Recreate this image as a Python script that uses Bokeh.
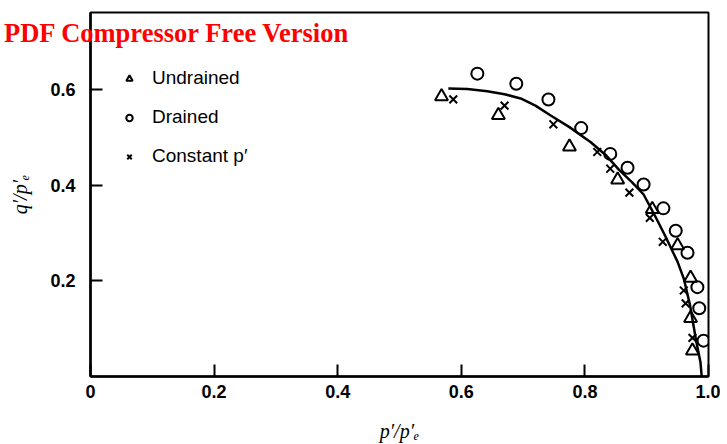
from bokeh.plotting import figure
from bokeh.models import Legend, LegendItem, FixedTicker, Div
from bokeh.layouts import column
from bokeh.embed import file_html
from bokeh.resources import INLINE

# Data (p'/p'e, q'/p'e)
undrained_x = [0.568, 0.660, 0.775, 0.853, 0.909, 0.950, 0.971, 0.971, 0.974]
undrained_y = [0.586, 0.547, 0.481, 0.412, 0.350, 0.274, 0.206, 0.122, 0.054]

drained_x = [0.626, 0.689, 0.741, 0.794, 0.841, 0.869, 0.895, 0.927, 0.947, 0.966, 0.982, 0.985, 0.992]
drained_y = [0.634, 0.613, 0.580, 0.520, 0.466, 0.437, 0.402, 0.352, 0.305, 0.259, 0.187, 0.143, 0.075]

constp_x = [0.587, 0.670, 0.749, 0.820, 0.841, 0.872, 0.905, 0.926, 0.960, 0.963, 0.974]
constp_y = [0.580, 0.567, 0.528, 0.470, 0.435, 0.385, 0.332, 0.282, 0.180, 0.153, 0.081]

curve_x = [0.579, 0.610, 0.642, 0.670, 0.696, 0.720, 0.744, 0.775, 0.809, 0.835, 0.855, 0.876, 0.895, 0.914, 0.930, 0.950, 0.960, 0.970, 0.980, 0.987, 0.989]
curve_y = [0.603, 0.602, 0.597, 0.591, 0.582, 0.567, 0.547, 0.522, 0.491, 0.462, 0.433, 0.407, 0.381, 0.335, 0.294, 0.240, 0.205, 0.150, 0.075, 0.030, 0.0]

x_ticks = [0, 0.2, 0.4, 0.6, 0.8, 1.0]
x_tick_labels = {0: "0", 0.2: "0.2", 0.4: "0.4", 0.6: "0.6", 0.8: "0.8", 1.0: "1.0"}
y_ticks = [0.2, 0.4, 0.6]
y_tick_labels = {0.2: "0.2", 0.4: "0.4", 0.6: "0.6"}

watermark = "PDF Compressor Free Version"

p = figure(width=720, height=444, output_backend="svg", toolbar_location=None,
           x_range=(0, 1.0), y_range=(0, 0.762),
           min_border_left=90, min_border_right=12, min_border_top=12, min_border_bottom=65)

p.grid.visible = False
p.outline_line_color = "black"
p.outline_line_width = 2
p.background_fill_color = "white"
p.border_fill_color = "white"

for ax in (p.xaxis[0], p.yaxis[0]):
    ax.axis_line_width = 2.5
    ax.major_tick_in = 12
    ax.major_tick_out = 0
    ax.major_tick_line_width = 2
    ax.minor_tick_line_color = None
    ax.major_label_text_font = "Liberation Sans"
    ax.major_label_text_font_style = "bold"
    ax.major_label_text_font_size = "18px"
    ax.major_label_text_color = "black"
    ax.axis_label_text_color = "black"
    ax.axis_label_text_font = "Liberation Serif"
    ax.axis_label_text_font_style = "italic"
    ax.axis_label_text_font_size = "20px"

p.xaxis.ticker = FixedTicker(ticks=x_ticks)
p.xaxis.major_label_overrides = x_tick_labels
p.xaxis.major_label_standoff = 8
p.xaxis.axis_label = "p\u2032/p\u2032\u2091"
p.xaxis.axis_label_standoff = 19

p.yaxis.ticker = FixedTicker(ticks=y_ticks)
p.yaxis.major_label_overrides = y_tick_labels
p.yaxis.major_label_standoff = 15
p.yaxis.axis_label = "q\u2032/p\u2032\u2091"
p.yaxis.axis_label_standoff = 16

p.line(curve_x, curve_y, line_color="black", line_width=2.5)

r_u = p.scatter(undrained_x, undrained_y, marker="triangle", size=13,
                fill_color=None, line_color="black", line_width=2)
r_d = p.scatter(drained_x, drained_y, marker="circle", size=12,
                fill_color=None, line_color="black", line_width=2)
r_c = p.scatter(constp_x, constp_y, marker="x", size=11,
                line_color="black", line_width=2)

legend = Legend(items=[LegendItem(label="Undrained", renderers=[r_u]),
                       LegendItem(label="Drained", renderers=[r_d]),
                       LegendItem(label="Constant p\u2032", renderers=[r_c])],
                location=(31, 209), border_line_alpha=0, background_fill_alpha=0,
                label_text_font="Liberation Sans", label_text_font_size="19px",
                label_text_color="black",
                glyph_width=16, glyph_height=19, label_height=19, spacing=17,
                label_standoff=15, padding=0, margin=0)
p.add_layout(legend)

wm = Div(text=watermark, width=380, height=34,
         styles={"position": "absolute", "left": "-1px", "top": "13px", "z-index": "10",
                 "color": "#ff0000", "font-family": "Liberation Serif", "font-weight": "bold",
                 "font-size": "26.5px", "white-space": "nowrap", "line-height": "30px"})

layout = column(p, wm, spacing=0)

open("out.html", "w").write(file_html(layout, INLINE))
